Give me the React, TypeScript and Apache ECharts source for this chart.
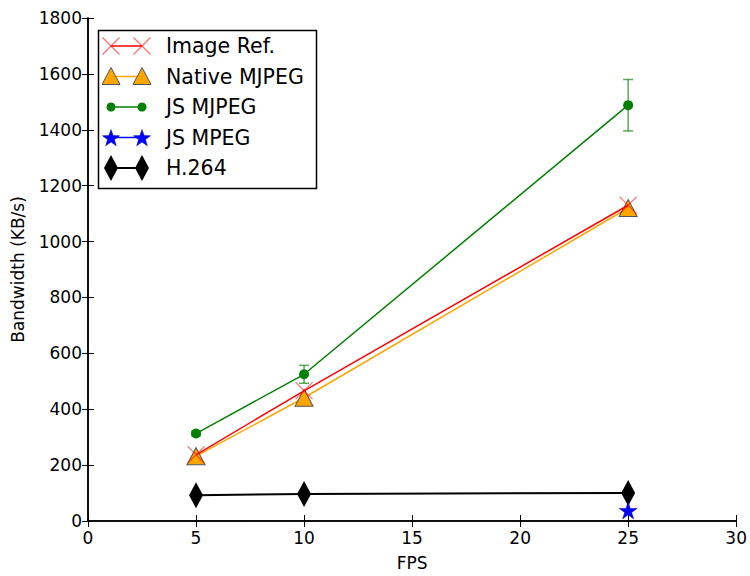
import React, { useEffect, useRef } from "react";
import * as echarts from "echarts";

const fps = [5, 10, 25];
const imageRef = [237, 466, 1130];
const nativeMjpeg = [232, 441, 1120];
const jsMjpeg = [313, 525, 1488];
const jsMjpegErr = [8, 32, 92];
const jsMpegFps = [25];
const jsMpeg = [38];
const h264 = [92, 97, 100];

const xTicks = { min: 0, max: 30, interval: 5 };
const yTicks = { min: 0, max: 1800, interval: 200 };

const FONT = "DejaVu Sans";

function starPoints(cx: number, cy: number, R: number, r: number) {
  const pts: number[][] = [];
  for (let i = 0; i < 10; i++) {
    const rad = i % 2 === 0 ? R : r;
    const a = -Math.PI / 2 + (i * Math.PI) / 5;
    pts.push([cx + rad * Math.cos(a), cy + rad * Math.sin(a)]);
  }
  return pts;
}

function starPath() {
  const pts = starPoints(10, 10, 10, 3.82);
  return "path://" + pts.map((p, i) => (i === 0 ? "M" : "L") + p[0].toFixed(2) + "," + p[1].toFixed(2)).join("") + "Z";
}

const X_PATH = "path://M0,0L10,10M0,10L10,0";

export default function App() {
  const ref = useRef<HTMLDivElement>(null);
  useEffect(() => {
    if (!ref.current) return;
    const chart = echarts.init(ref.current, null, { renderer: "svg" });

    const legendItems = ["Image Ref.", "Native MJPEG", "JS MJPEG", "JS MPEG", "H.264"];
    const lx1 = 111, lx2 = 142, ly0 = 46, ldy = 30.5;
    const legendChildren: any[] = [
      {
        type: "rect",
        shape: { x: 98.5, y: 30.5, width: 218, height: 158 },
        style: { fill: "#fff", stroke: "#000", lineWidth: 1.5 },
      },
    ];
    const lineColors = ["#ff0000", "#ffa500", "#008000", "#0000ff", "#000000"];
    legendItems.forEach((name, i) => {
      const y = ly0 + i * ldy;
      legendChildren.push({
        type: "line",
        shape: { x1: lx1, y1: y, x2: lx2, y2: y },
        style: { stroke: lineColors[i], lineWidth: i === 4 ? 2 : 1.5 },
      });
      [lx1, lx2].forEach((cx) => {
        if (i === 0) {
          const s = 8.5;
          legendChildren.push({ type: "line", shape: { x1: cx - s, y1: y - s, x2: cx + s, y2: y + s }, style: { stroke: "rgba(255,0,0,0.55)", lineWidth: 1.2 } });
          legendChildren.push({ type: "line", shape: { x1: cx - s, y1: y + s, x2: cx + s, y2: y - s }, style: { stroke: "rgba(255,0,0,0.55)", lineWidth: 1.2 } });
        } else if (i === 1) {
          legendChildren.push({ type: "polygon", shape: { points: [[cx, y - 9], [cx - 9, y + 8], [cx + 9, y + 8]] }, style: { fill: "#ffa500", stroke: "#555", lineWidth: 1 } });
        } else if (i === 2) {
          legendChildren.push({ type: "circle", shape: { cx, cy: y, r: 4.5 }, style: { fill: "#008000" } });
        } else if (i === 3) {
          legendChildren.push({ type: "polygon", shape: { points: starPoints(cx, y + 1, 9, 3.6) }, style: { fill: "#0000ff", stroke: "#0000aa", lineWidth: 0.5 } });
        } else {
          legendChildren.push({ type: "polygon", shape: { points: [[cx, y - 13], [cx + 7, y], [cx, y + 13], [cx - 7, y]] }, style: { fill: "#000" } });
        }
      });
      legendChildren.push({
        type: "text",
        x: 166,
        y: y,
        style: { text: name, font: `20.5px '${FONT}'`, fill: "#000", textVerticalAlign: "middle", verticalAlign: "middle" },
      });
    });

    const axisCommon = {
      type: "value" as const,
      axisLine: { show: true, lineStyle: { color: "#000", width: 1.5 } },
      axisTick: { show: true, inside: true, length: 6, lineStyle: { color: "#000", width: 1 } },
      splitLine: { show: false },
    };

    const errData = fps.map((x, i) => [x, jsMjpeg[i] - jsMjpegErr[i], jsMjpeg[i] + jsMjpegErr[i]]);
    const fmt = (v: number) => String(v);

    chart.setOption({
      animation: false,
      backgroundColor: "#fff",
      textStyle: { fontFamily: FONT },
      grid: { left: 88, right: 9, top: 18, bottom: 51 },
      xAxis: [
        {
          ...axisCommon,
          ...xTicks,
          position: "bottom",
          name: "FPS",
          nameLocation: "middle",
          nameGap: 33,
          nameTextStyle: { fontFamily: FONT, fontSize: 17, color: "#000" },
          axisLabel: { fontFamily: FONT, fontSize: 17, color: "#000", margin: 8, formatter: fmt },
        },
        { ...axisCommon, ...xTicks, position: "top", axisLabel: { show: false } },
      ],
      yAxis: [
        {
          ...axisCommon,
          ...yTicks,
          position: "left",
          name: "Bandwidth (KB/s)",
          nameLocation: "middle",
          nameGap: 62,
          nameRotate: 90,
          nameTextStyle: { fontFamily: FONT, fontSize: 17, color: "#000" },
          axisLabel: { fontFamily: FONT, fontSize: 17, color: "#000", margin: 6, formatter: fmt },
        },
        { ...axisCommon, ...yTicks, position: "right", axisLabel: { show: false } },
      ],
      graphic: [{ type: "group", children: legendChildren, z: 100 }],
      series: [
        {
          name: "Image Ref.",
          type: "line",
          data: fps.map((x, i) => [x, imageRef[i]]),
          symbol: X_PATH,
          symbolSize: 17,
          lineStyle: { color: "#ff0000", width: 1.5 },
          itemStyle: { color: "rgba(255,0,0,0)", borderColor: "rgba(255,0,0,0.5)", borderWidth: 1.2 },
          z: 3,
        },
        {
          name: "Native MJPEG",
          type: "line",
          data: fps.map((x, i) => [x, nativeMjpeg[i]]),
          symbol: "triangle",
          symbolSize: [18, 17],
          lineStyle: { color: "#ffa500", width: 1.5 },
          itemStyle: { color: "#ffa500", borderColor: "#555", borderWidth: 1 },
          z: 2,
        },
        {
          name: "JS MJPEG err",
          type: "custom",
          data: errData,
          renderItem: (params: any, api: any) => {
            const x = api.value(0);
            const lo = api.coord([x, api.value(1)]);
            const hi = api.coord([x, api.value(2)]);
            const w = 5;
            const st = { stroke: "rgba(0,128,0,0.65)", lineWidth: 1.5 };
            return {
              type: "group",
              children: [
                { type: "line", shape: { x1: lo[0], y1: lo[1], x2: hi[0], y2: hi[1] }, style: st },
                { type: "line", shape: { x1: lo[0] - w, y1: lo[1], x2: lo[0] + w, y2: lo[1] }, style: st },
                { type: "line", shape: { x1: hi[0] - w, y1: hi[1], x2: hi[0] + w, y2: hi[1] }, style: st },
              ],
            };
          },
          z: 4,
        },
        {
          name: "JS MJPEG",
          type: "line",
          data: fps.map((x, i) => [x, jsMjpeg[i]]),
          symbol: "circle",
          symbolSize: 10,
          lineStyle: { color: "#008000", width: 1.5 },
          itemStyle: { color: "#008000", borderWidth: 0 },
          z: 5,
        },
        {
          name: "JS MPEG",
          type: "line",
          data: jsMpegFps.map((x, i) => [x, jsMpeg[i]]),
          symbol: starPath(),
          symbolSize: [18, 17],
          lineStyle: { color: "#0000ff", width: 1.5 },
          itemStyle: { color: "#0000ff", borderColor: "#0000aa", borderWidth: 0.5 },
          z: 6,
        },
        {
          name: "H.264",
          type: "line",
          data: fps.map((x, i) => [x, h264[i]]),
          symbol: "diamond",
          symbolSize: [14, 26],
          lineStyle: { color: "#000", width: 2 },
          itemStyle: { color: "#000" },
          z: 5,
        },
      ],
    });
    return () => chart.dispose();
  }, []);
  return <div ref={ref} style={{ width: 750, height: 576, position: "absolute", left: 0, top: 0 }} />;
}
